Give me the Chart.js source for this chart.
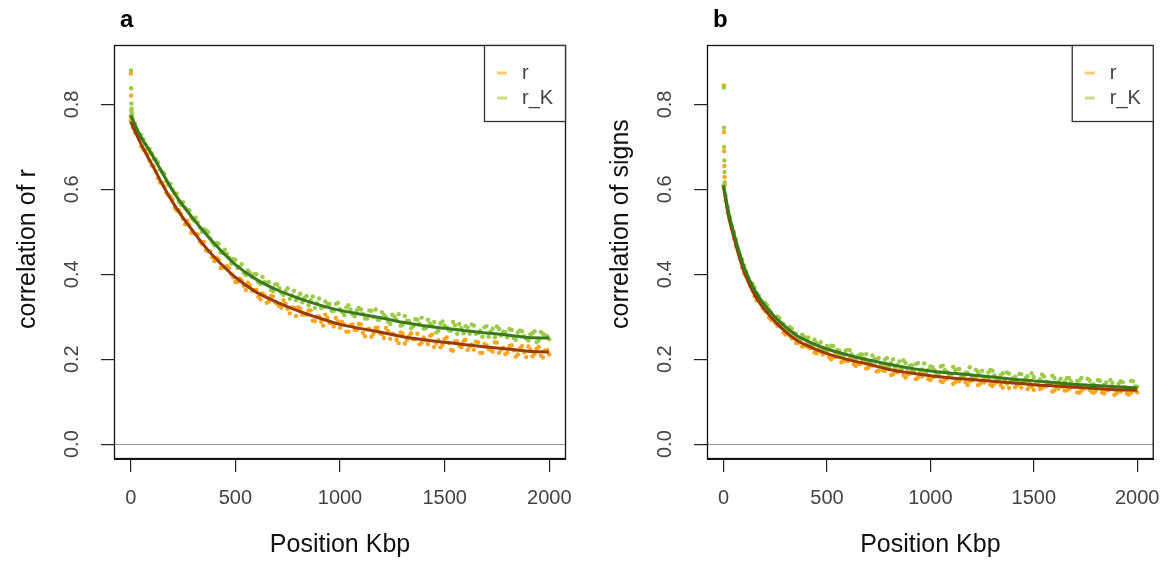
<!DOCTYPE html>
<html>
<head>
<meta charset="utf-8">
<script src="https://cdn.jsdelivr.net/npm/chart.js@4/dist/chart.umd.min.js"></script>
<style>
    html, body { margin: 0; padding: 0; background: #fff; }
    #wrap { position: relative; width: 1174px; height: 567px; }
    canvas { position: absolute; top: 0; }
    #chartA { left: 0; }
    #chartB { left: 593px; }
</style>
</head>
<body>
<div id="wrap">
    <canvas id="chartA" width="587" height="567"></canvas>
    <canvas id="chartB" width="581" height="567"></canvas>
</div>
<script>
// 坐标轴刻度
const xTicks = [0, 500, 1000, 1500, 2000];
const yTicks = [0, 0.2, 0.4, 0.6, 0.8];
const seriesNames = ['r', 'r_K'];

// 散点位置 (Kbp)
const scatterKbp = [0, 20, 40, 60, 80, 100, 120, 140, 160, 180, 200, 220, 240, 260, 280, 300, 320, 340, 360, 380,
    400, 420, 440, 460, 480, 500, 520, 540, 560, 580, 600, 620, 640, 660, 680, 700, 720, 740, 760, 780,
    800, 820, 840, 860, 880, 900, 920, 940, 960, 980, 1000, 1020, 1040, 1060, 1080, 1100, 1120, 1140, 1160, 1180,
    1200, 1220, 1240, 1260, 1280, 1300, 1320, 1340, 1360, 1380, 1400, 1420, 1440, 1460, 1480, 1500, 1520, 1540, 1560, 1580,
    1600, 1620, 1640, 1660, 1680, 1700, 1720, 1740, 1760, 1780, 1800, 1820, 1840, 1860, 1880, 1900, 1920, 1940, 1960, 1980, 2000];
const scatterKbpMid = [10, 30, 50, 70, 90, 110, 130, 150, 170, 190, 210, 230, 250, 270, 290, 310, 330, 350, 370, 390,
    410, 430, 450, 470, 490, 510, 530, 550, 570, 590, 610, 630, 650, 670, 690, 710, 730, 750, 770, 790,
    810, 830, 850, 870, 890, 910, 930, 950, 970, 990, 1010, 1030, 1050, 1070, 1090, 1110, 1130, 1150, 1170, 1190,
    1210, 1230, 1250, 1270, 1290, 1310, 1330, 1350, 1370, 1390, 1410, 1430, 1450, 1470, 1490, 1510, 1530, 1550, 1570, 1590,
    1610, 1630, 1650, 1670, 1690, 1710, 1730, 1750, 1770, 1790, 1810, 1830, 1850, 1870, 1890, 1910, 1930, 1950, 1970, 1990];

// 图 a: correlation of r
const aR = [0.761, 0.734, 0.720, 0.694, 0.683, 0.656, 0.642, 0.616, 0.607, 0.586, 0.576, 0.550, 0.542, 0.518, 0.517, 0.497, 0.494, 0.472, 0.456, 0.454,
    0.431, 0.435, 0.416, 0.419, 0.400, 0.382, 0.390, 0.373, 0.380, 0.361, 0.364, 0.341, 0.350, 0.336, 0.348, 0.330, 0.321, 0.331, 0.308, 0.321,
    0.322, 0.305, 0.305, 0.315, 0.290, 0.301, 0.279, 0.298, 0.285, 0.297, 0.274, 0.282, 0.265, 0.282, 0.269, 0.282, 0.254, 0.271, 0.260, 0.274,
    0.259, 0.274, 0.248, 0.258, 0.238, 0.260, 0.246, 0.261, 0.247, 0.235, 0.251, 0.236, 0.258, 0.238, 0.228, 0.248, 0.238, 0.220, 0.242, 0.228,
    0.246, 0.230, 0.222, 0.240, 0.215, 0.233, 0.222, 0.240, 0.215, 0.227, 0.216, 0.233, 0.206, 0.226, 0.216, 0.230, 0.207, 0.225, 0.209, 0.220, 0.211];
const aRMid = [0.745, 0.729, 0.701, 0.691, 0.668, 0.654, 0.626, 0.615, 0.592, 0.584, 0.556, 0.551, 0.531, 0.526, 0.498, 0.495, 0.477, 0.476, 0.454, 0.440,
    0.439, 0.415, 0.418, 0.414, 0.393, 0.382, 0.386, 0.363, 0.374, 0.362, 0.347, 0.355, 0.333, 0.349, 0.334, 0.325, 0.339, 0.319, 0.322, 0.302,
    0.319, 0.306, 0.315, 0.291, 0.300, 0.288, 0.305, 0.286, 0.277, 0.289, 0.288, 0.265, 0.280, 0.269, 0.283, 0.262, 0.270, 0.253, 0.274, 0.262,
    0.250, 0.266, 0.260, 0.246, 0.263, 0.237, 0.255, 0.247, 0.260, 0.239, 0.245, 0.255, 0.229, 0.245, 0.234, 0.251, 0.222, 0.242, 0.232, 0.243,
    0.222, 0.235, 0.241, 0.215, 0.236, 0.224, 0.218, 0.239, 0.223, 0.212, 0.231, 0.221, 0.211, 0.231, 0.205, 0.223, 0.213, 0.229, 0.204, 0.222];
const aRK = [0.772, 0.755, 0.731, 0.718, 0.696, 0.685, 0.671, 0.647, 0.637, 0.610, 0.600, 0.590, 0.564, 0.557, 0.551, 0.527, 0.522, 0.500, 0.503, 0.484,
    0.468, 0.472, 0.450, 0.448, 0.425, 0.434, 0.418, 0.403, 0.409, 0.393, 0.400, 0.377, 0.382, 0.382, 0.360, 0.376, 0.356, 0.361, 0.342, 0.361,
    0.346, 0.334, 0.349, 0.339, 0.321, 0.343, 0.323, 0.331, 0.314, 0.330, 0.318, 0.304, 0.327, 0.306, 0.315, 0.317, 0.296, 0.315, 0.300, 0.293,
    0.311, 0.299, 0.283, 0.300, 0.306, 0.282, 0.291, 0.273, 0.294, 0.283, 0.272, 0.293, 0.279, 0.263, 0.284, 0.279, 0.268, 0.288, 0.260, 0.273,
    0.278, 0.260, 0.279, 0.262, 0.253, 0.278, 0.265, 0.252, 0.271, 0.265, 0.252, 0.269, 0.246, 0.268, 0.254, 0.244, 0.261, 0.240, 0.264, 0.256, 0.247];
const aRKMid = [0.766, 0.740, 0.728, 0.706, 0.695, 0.672, 0.664, 0.641, 0.619, 0.613, 0.592, 0.571, 0.570, 0.552, 0.533, 0.533, 0.510, 0.506, 0.499, 0.475,
    0.474, 0.451, 0.458, 0.439, 0.436, 0.415, 0.424, 0.398, 0.403, 0.400, 0.381, 0.394, 0.379, 0.363, 0.376, 0.367, 0.351, 0.367, 0.350, 0.339,
    0.354, 0.344, 0.327, 0.348, 0.332, 0.321, 0.336, 0.330, 0.314, 0.333, 0.311, 0.322, 0.317, 0.301, 0.321, 0.306, 0.296, 0.314, 0.317, 0.294,
    0.305, 0.288, 0.305, 0.293, 0.279, 0.302, 0.290, 0.278, 0.293, 0.298, 0.273, 0.284, 0.288, 0.267, 0.289, 0.275, 0.267, 0.280, 0.283, 0.261,
    0.275, 0.282, 0.260, 0.267, 0.275, 0.253, 0.272, 0.277, 0.256, 0.264, 0.271, 0.250, 0.263, 0.266, 0.248, 0.259, 0.266, 0.244, 0.260, 0.254];

// 图 b: correlation of signs
const bR = [0.606, 0.545, 0.507, 0.466, 0.436, 0.401, 0.385, 0.361, 0.338, 0.332, 0.314, 0.298, 0.294, 0.279, 0.277, 0.258, 0.256, 0.251, 0.238, 0.230,
    0.235, 0.226, 0.216, 0.222, 0.211, 0.217, 0.200, 0.205, 0.207, 0.195, 0.195, 0.199, 0.184, 0.189, 0.195, 0.180, 0.185, 0.171, 0.184, 0.172,
    0.177, 0.165, 0.169, 0.177, 0.157, 0.166, 0.170, 0.157, 0.159, 0.166, 0.151, 0.159, 0.164, 0.146, 0.154, 0.158, 0.146, 0.148, 0.160, 0.139,
    0.150, 0.154, 0.142, 0.145, 0.153, 0.137, 0.146, 0.139, 0.151, 0.132, 0.146, 0.139, 0.133, 0.148, 0.138, 0.128, 0.140, 0.132, 0.136, 0.142,
    0.127, 0.131, 0.139, 0.127, 0.134, 0.139, 0.121, 0.130, 0.134, 0.123, 0.125, 0.134, 0.119, 0.127, 0.132, 0.120, 0.124, 0.134, 0.117, 0.126, 0.122];
const bRMid = [0.574, 0.527, 0.484, 0.454, 0.416, 0.395, 0.371, 0.348, 0.338, 0.320, 0.311, 0.293, 0.286, 0.282, 0.263, 0.263, 0.249, 0.238, 0.242, 0.231,
    0.228, 0.231, 0.214, 0.218, 0.217, 0.205, 0.205, 0.209, 0.193, 0.199, 0.201, 0.188, 0.189, 0.195, 0.178, 0.185, 0.186, 0.173, 0.174, 0.182,
    0.163, 0.171, 0.174, 0.163, 0.164, 0.172, 0.153, 0.164, 0.166, 0.153, 0.157, 0.165, 0.148, 0.152, 0.159, 0.142, 0.152, 0.158, 0.146, 0.148,
    0.155, 0.139, 0.148, 0.155, 0.140, 0.142, 0.149, 0.133, 0.142, 0.149, 0.134, 0.142, 0.147, 0.130, 0.135, 0.143, 0.130, 0.136, 0.144, 0.124,
    0.135, 0.140, 0.126, 0.130, 0.137, 0.122, 0.126, 0.138, 0.128, 0.121, 0.134, 0.122, 0.127, 0.133, 0.116, 0.127, 0.133, 0.119, 0.121, 0.129];
const bRK = [0.609, 0.558, 0.513, 0.482, 0.445, 0.420, 0.392, 0.378, 0.356, 0.337, 0.333, 0.317, 0.300, 0.301, 0.286, 0.273, 0.276, 0.262, 0.249, 0.258,
    0.247, 0.236, 0.246, 0.233, 0.222, 0.231, 0.232, 0.216, 0.220, 0.208, 0.222, 0.211, 0.199, 0.211, 0.202, 0.191, 0.209, 0.198, 0.189, 0.199,
    0.183, 0.200, 0.186, 0.177, 0.191, 0.184, 0.174, 0.191, 0.176, 0.166, 0.183, 0.174, 0.165, 0.185, 0.170, 0.161, 0.175, 0.177, 0.162, 0.168,
    0.156, 0.175, 0.162, 0.155, 0.169, 0.173, 0.153, 0.162, 0.147, 0.166, 0.155, 0.146, 0.165, 0.156, 0.147, 0.158, 0.141, 0.164, 0.147, 0.141,
    0.156, 0.147, 0.135, 0.155, 0.148, 0.137, 0.150, 0.134, 0.154, 0.140, 0.131, 0.149, 0.140, 0.131, 0.144, 0.127, 0.148, 0.134, 0.129, 0.148, 0.135];
const bRKMid = [0.585, 0.535, 0.500, 0.461, 0.435, 0.406, 0.381, 0.369, 0.350, 0.332, 0.327, 0.311, 0.296, 0.297, 0.283, 0.268, 0.272, 0.260, 0.250, 0.253,
    0.251, 0.235, 0.238, 0.240, 0.221, 0.225, 0.231, 0.222, 0.211, 0.220, 0.221, 0.201, 0.207, 0.211, 0.212, 0.193, 0.201, 0.203, 0.184, 0.203,
    0.191, 0.180, 0.195, 0.197, 0.177, 0.186, 0.189, 0.170, 0.190, 0.175, 0.181, 0.164, 0.183, 0.174, 0.164, 0.182, 0.176, 0.159, 0.168, 0.181,
    0.158, 0.170, 0.173, 0.153, 0.175, 0.162, 0.154, 0.167, 0.169, 0.146, 0.159, 0.165, 0.147, 0.160, 0.167, 0.143, 0.153, 0.159, 0.143, 0.161,
    0.138, 0.154, 0.147, 0.156, 0.137, 0.149, 0.156, 0.136, 0.150, 0.141, 0.151, 0.131, 0.145, 0.151, 0.132, 0.142, 0.146, 0.128, 0.149, 0.136];

// 起点附近的高值点
const earlyKbp = [1, 2, 3, 4, 5, 6];
const aEarlyR = [0.873, 0.821, 0.786, 0.775, 0.768, 0.762];
const aEarlyRK = [0.880, 0.838, 0.802, 0.790, 0.780, 0.776];
const bEarlyR = [0.845, 0.735, 0.690, 0.655, 0.629, 0.612];
const bEarlyRK = [0.840, 0.745, 0.700, 0.668, 0.641, 0.617];

// 平滑曲线
const lineKbp = [0, 25, 50, 75, 100, 150, 200, 250, 300, 350, 400, 500, 600, 700, 800, 900, 1000, 1100, 1200, 1300, 1400, 1500, 1600, 1700, 1800, 1900, 2000];
const aLineR = [0.759, 0.732, 0.706, 0.682, 0.660, 0.613, 0.570, 0.533, 0.500, 0.468, 0.440, 0.393, 0.358, 0.334, 0.314, 0.297, 0.282, 0.272, 0.263, 0.253, 0.246, 0.240, 0.234, 0.229, 0.224, 0.219, 0.217];
const aLineRK = [0.774, 0.747, 0.722, 0.703, 0.683, 0.640, 0.597, 0.562, 0.530, 0.500, 0.472, 0.423, 0.388, 0.363, 0.344, 0.328, 0.315, 0.306, 0.297, 0.287, 0.279, 0.273, 0.267, 0.262, 0.257, 0.251, 0.250];
const bLineR = [0.605, 0.535, 0.487, 0.443, 0.405, 0.352, 0.316, 0.288, 0.265, 0.246, 0.233, 0.213, 0.199, 0.188, 0.176, 0.168, 0.161, 0.156, 0.152, 0.148, 0.144, 0.140, 0.137, 0.134, 0.131, 0.128, 0.127];
const bLineRK = [0.610, 0.545, 0.497, 0.453, 0.416, 0.363, 0.327, 0.299, 0.276, 0.257, 0.244, 0.224, 0.210, 0.198, 0.188, 0.179, 0.172, 0.167, 0.163, 0.158, 0.153, 0.149, 0.145, 0.141, 0.138, 0.135, 0.132];

const pts = (xs, ys) => xs.map((x, i) => ({ x: x, y: ys[i] }));
const FONT = '"Liberation Sans", Arial, sans-serif';

// 边框、零线、图例、面板字母、y 轴标题
const framePlugin = {
    id: 'rframe',
    beforeDatasetsDraw(chart) {
        const { ctx, chartArea: a, scales } = chart;
        const y0 = Math.round(scales.y.getPixelForValue(0)) + 0.5;
        ctx.save();
        ctx.strokeStyle = '#999';
        ctx.lineWidth = 1;
        ctx.beginPath();
        ctx.moveTo(a.left, y0);
        ctx.lineTo(a.right, y0);
        ctx.stroke();
        ctx.restore();
    },
    afterDraw(chart, args, opts) {
        const { ctx, chartArea: a } = chart;
        ctx.save();
        ctx.strokeStyle = '#111';
        ctx.lineWidth = 1.3;
        ctx.strokeRect(a.left + 0.5, a.top + 0.5, a.right - a.left - 1, a.bottom - a.top - 1);

        // 图例
        const lw = 82, lh = 77;
        const lx = a.right - lw, ly = a.top;
        ctx.fillStyle = '#fff';
        ctx.fillRect(lx, ly, lw, lh);
        ctx.strokeStyle = '#333';
        ctx.lineWidth = 1.3;
        ctx.strokeRect(lx + 0.5, ly + 0.5, lw - 1, lh - 1);
        const legendCols = ['rgba(255, 185, 70, 0.75)', 'rgba(185, 215, 100, 0.8)'];
        ctx.font = '20px ' + FONT;
        ctx.textBaseline = 'middle';
        seriesNames.forEach((name, i) => {
            const yy = ly + 28 + i * 25;
            ctx.strokeStyle = legendCols[i];
            ctx.lineWidth = 3;
            ctx.beginPath();
            ctx.moveTo(lx + 13, yy);
            ctx.lineTo(lx + 23, yy);
            ctx.stroke();
            ctx.fillStyle = '#444';
            ctx.fillText(name, lx + 38, yy);
        });

        // y 轴标题 (从下端起排)
        ctx.save();
        ctx.translate(28, a.bottom - 130);
        ctx.rotate(-Math.PI / 2);
        ctx.fillStyle = '#111';
        ctx.font = '25px ' + FONT;
        ctx.textAlign = 'left';
        ctx.textBaseline = 'middle';
        ctx.fillText(opts.yTitle, 0, 0);
        ctx.restore();

        // 面板字母
        ctx.fillStyle = '#000';
        ctx.font = 'bold 24px ' + FONT;
        ctx.textBaseline = 'alphabetic';
        ctx.fillText(opts.letter, a.left + 6, 27);
        ctx.restore();
    }
};

function makePanel(canvasId, letter, yTitle, s, padRight) {
    const ctx = document.getElementById(canvasId).getContext('2d');
    return new Chart(ctx, {
        type: 'scatter',
        data: {
            datasets: [
                {
                    label: 'r line', data: pts(lineKbp, s.lineR), showLine: true,
                    borderColor: '#9a3c02', borderWidth: 3, pointRadius: 0,
                    cubicInterpolationMode: 'monotone', order: 1
                },
                {
                    label: 'r_K line', data: pts(lineKbp, s.lineRK), showLine: true,
                    borderColor: '#3b7a1c', borderWidth: 3, pointRadius: 0,
                    cubicInterpolationMode: 'monotone', order: 0
                },
                {
                    label: seriesNames[0],
                    data: pts(scatterKbp, s.r).concat(pts(scatterKbpMid, s.rMid), pts(earlyKbp, s.earlyR)),
                    backgroundColor: '#ffa51c', borderWidth: 0, pointRadius: 2.2, order: 3
                },
                {
                    label: seriesNames[1],
                    data: pts(scatterKbp, s.rK).concat(pts(scatterKbpMid, s.rKMid), pts(earlyKbp, s.earlyRK)),
                    backgroundColor: '#9ccb48', borderWidth: 0, pointRadius: 2.2, order: 2
                }
            ]
        },
        options: {
            responsive: false,
            animation: false,
            devicePixelRatio: 1,
            layout: { padding: { left: 0, right: padRight, top: 45, bottom: 0 } },
            plugins: {
                legend: { display: false },
                tooltip: { enabled: false },
                rframe: { letter: letter, yTitle: yTitle }
            },
            scales: {
                x: {
                    type: 'linear',
                    min: -80,
                    max: 2080,
                    afterBuildTicks: sc => { sc.ticks = xTicks.map(v => ({ value: v })); },
                    afterFit: sc => { sc.height = 108; },
                    grid: { drawOnChartArea: false, drawTicks: true, tickLength: 13, color: '#222', lineWidth: 1.2 },
                    border: { display: true, color: '#111' },
                    ticks: {
                        padding: 14, maxRotation: 0, color: '#444',
                        font: { family: FONT, size: 20 },
                        callback: v => String(v)
                    },
                    title: {
                        display: true, text: 'Position Kbp', color: '#111',
                        font: { family: FONT, size: 25 },
                        padding: { top: 0, bottom: 7 }
                    }
                },
                y: {
                    type: 'linear',
                    min: -0.035,
                    max: 0.94,
                    afterBuildTicks: sc => { sc.ticks = yTicks.map(v => ({ value: v })); },
                    afterFit: sc => { sc.width = 114; },
                    grid: { drawOnChartArea: false, drawTicks: true, tickLength: 13, color: '#222', lineWidth: 1.2 },
                    border: { display: true, color: '#111' },
                    ticks: {
                        padding: 15, minRotation: 90, maxRotation: 90, crossAlign: 'center', color: '#444',
                        font: { family: FONT, size: 20 },
                        callback: v => v.toFixed(1)
                    },
                    title: { display: false }
                }
            }
        },
        plugins: [framePlugin]
    });
}

window.addEventListener('DOMContentLoaded', () => {
    makePanel('chartA', 'a', 'correlation of r', {
        r: aR, rMid: aRMid, rK: aRK, rKMid: aRKMid,
        earlyR: aEarlyR, earlyRK: aEarlyRK, lineR: aLineR, lineRK: aLineRK
    }, 21);
    makePanel('chartB', 'b', 'correlation of signs', {
        r: bR, rMid: bRMid, rK: bRK, rKMid: bRKMid,
        earlyR: bEarlyR, earlyRK: bEarlyRK, lineR: bLineR, lineRK: bLineRK
    }, 15);
});
</script>
</body>
</html>
